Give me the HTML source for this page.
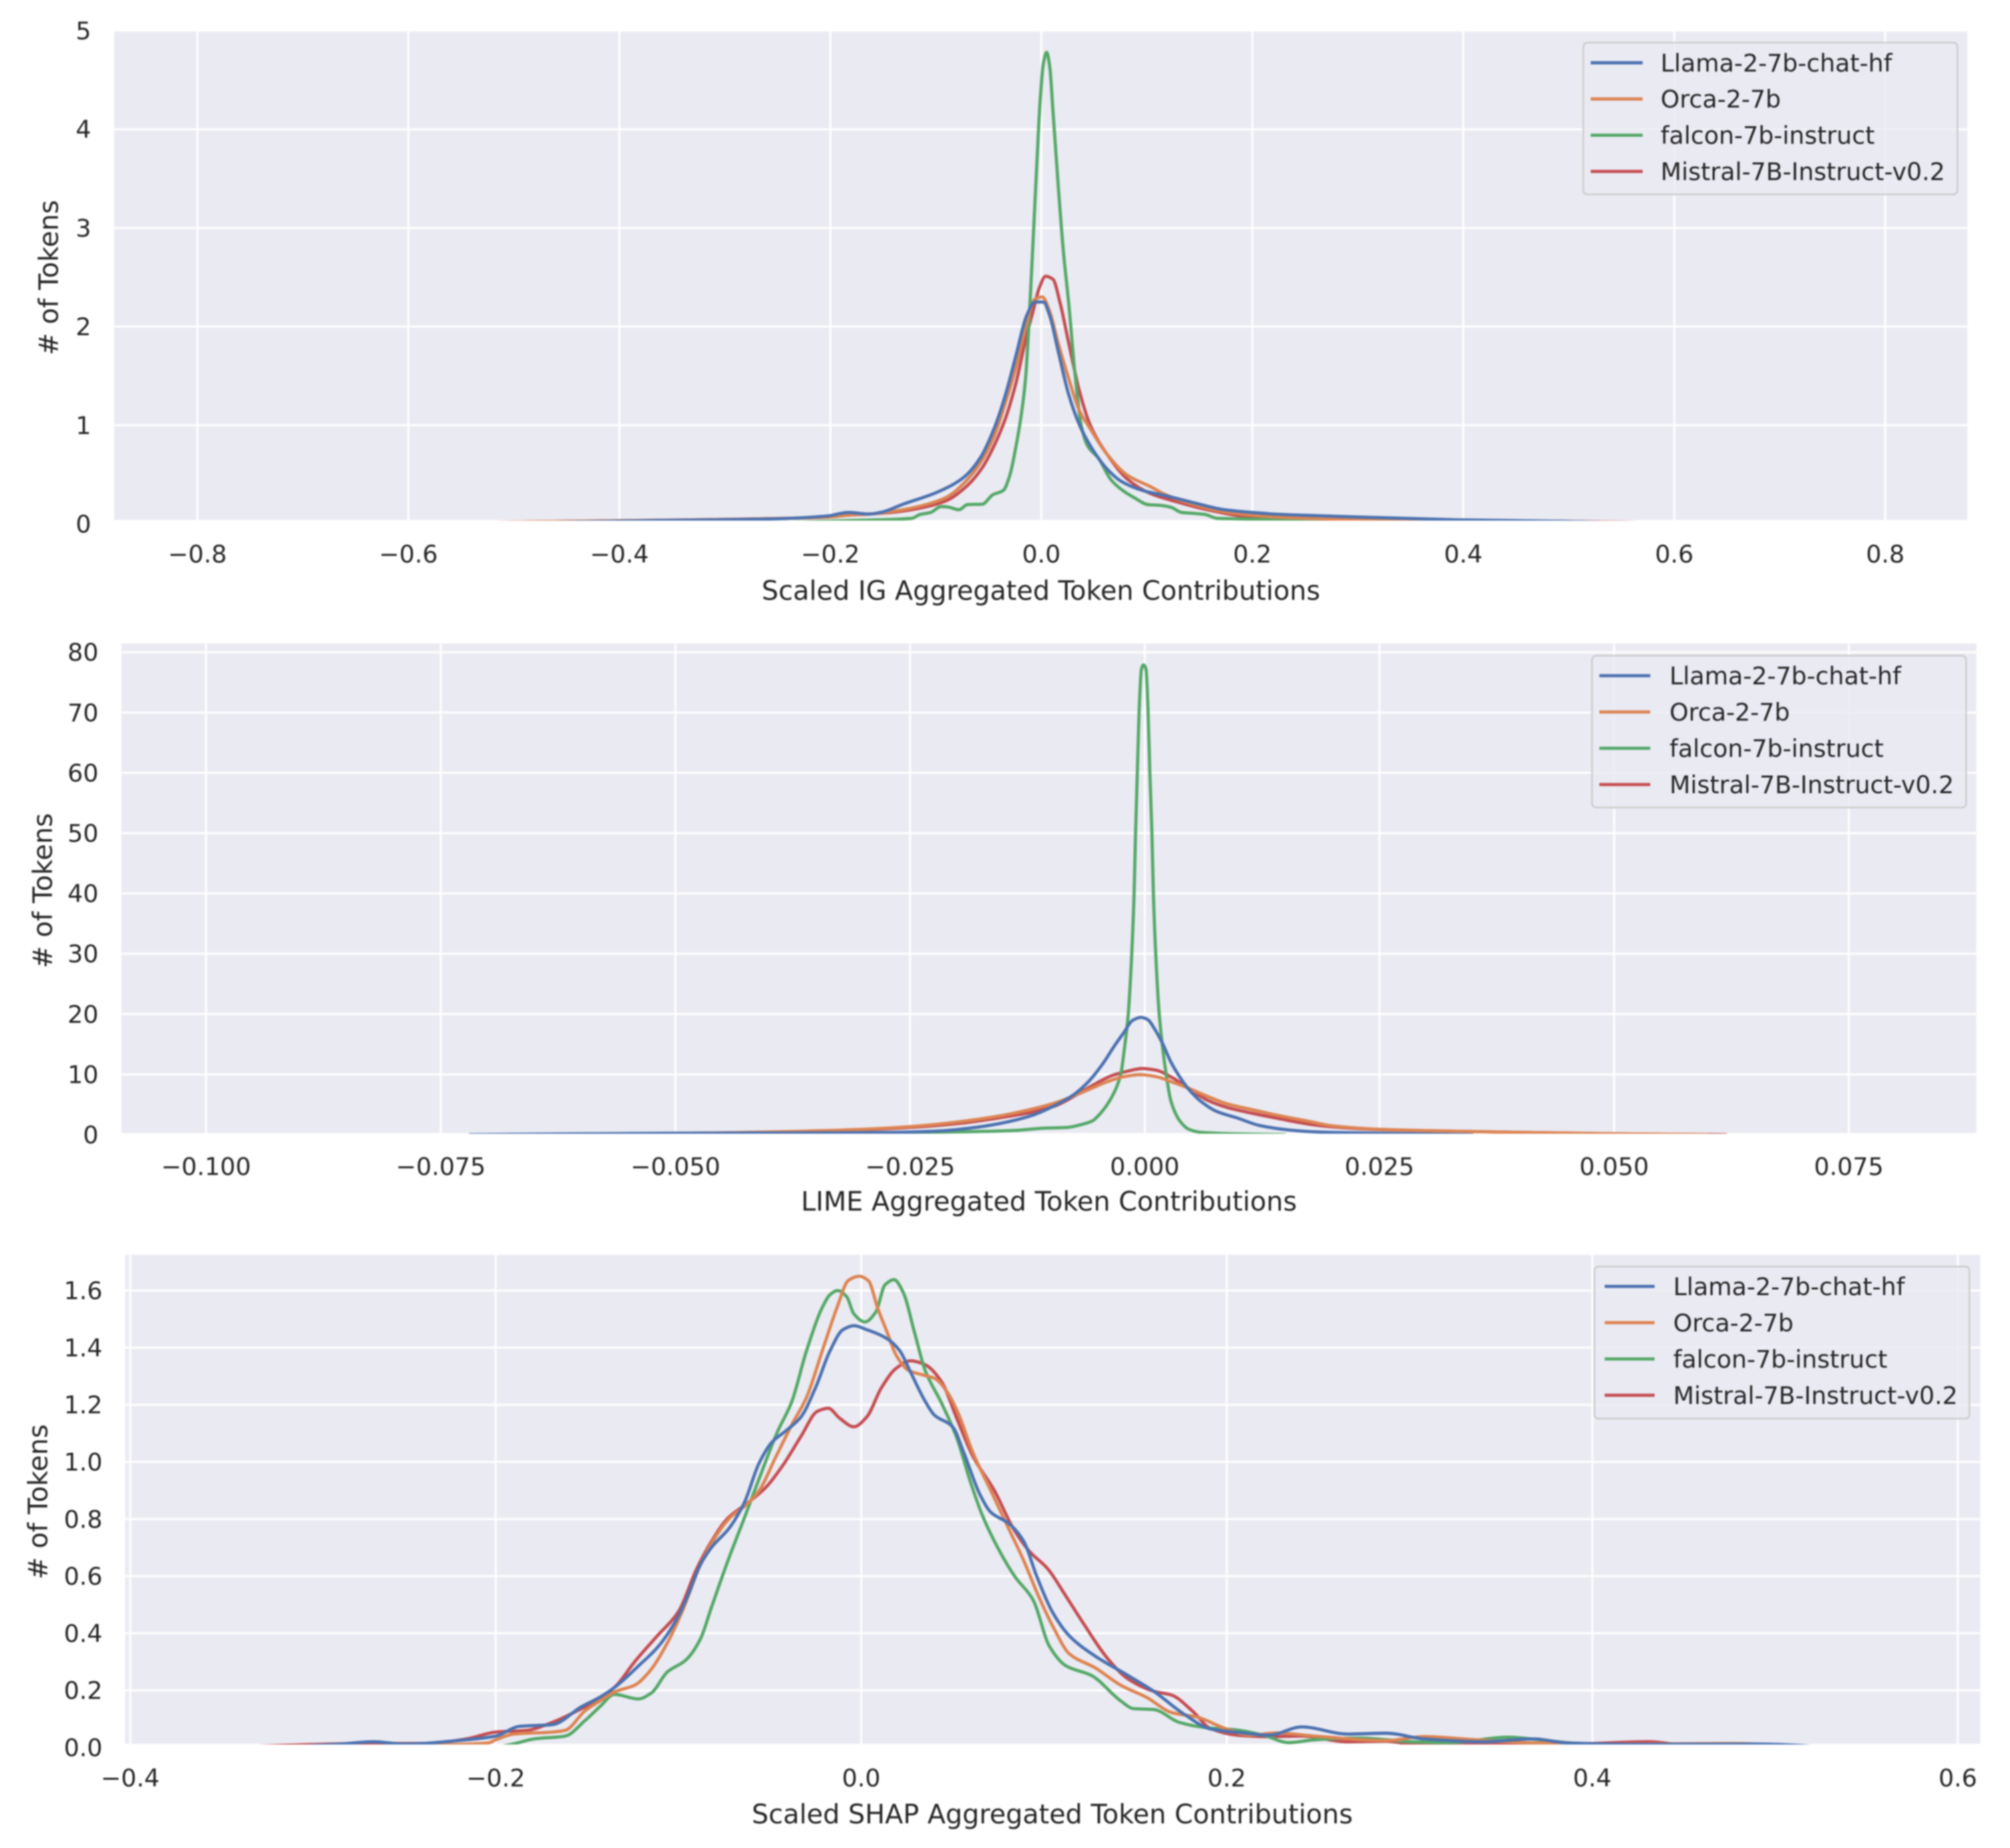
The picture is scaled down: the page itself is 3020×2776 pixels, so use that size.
<!DOCTYPE html>
<html lang="en">
<head>
<meta charset="utf-8">
<title>Aggregated Token Contributions</title>
<style>
html,body{margin:0;padding:0;background:#fff;width:3020px;height:2776px;overflow:hidden}
svg{display:block;filter:blur(1.1px)}
text{font-family:"DejaVu Sans","Liberation Sans",sans-serif;fill:#262626}
</style>
</head>
<body>
<svg id="chart" xmlns="http://www.w3.org/2000/svg" width="3020" height="2776" viewBox="0 0 3020 2776">
<rect width="3020" height="2776" fill="#ffffff"/>
<defs id="defs"></defs>
</svg>
<script>
// ---------- shared labels ----------
const seriesNames = ["Llama-2-7b-chat-hf","Orca-2-7b","falcon-7b-instruct","Mistral-7B-Instruct-v0.2"];
const seriesColors = ["#4c72b0","#dd8452","#55a868","#c44e52"];

// ---------- IG panel ----------
const igXTicks = [-0.8,-0.6,-0.4,-0.2,0,0.2,0.4,0.6,0.8];
const igXLabels = ["−0.8","−0.6","−0.4","−0.2","0.0","0.2","0.4","0.6","0.8"];
const igYTicks = [0,1,2,3,4,5];
const igYLabels = ["0","1","2","3","4","5"];
const igLlamaX = [-.53,-.45,-.36,-.256,-.203,-.183,-.163,-.151,-.131,-.099,-.074,-.058,-.044,-.034,-.024,-.014,-.006,.002,.008,.016,.026,.036,.046,.062,.076,.097,.117,.147,.171,.2,.227,.26,.3,.35,.4,.5,.6];
const igLlamaY = [0,.02,.035,.05,.08,.116,.1,.12,.2,.32,.468,.668,.988,1.309,1.709,2.109,2.249,2.249,2.109,1.749,1.309,1.008,.8,.56,.43,.336,.288,.208,.148,.116,.096,.084,.07,.055,.04,.025,0];
const igOrcaX = [-.62,-.5,-.336,-.276,-.203,-.183,-.163,-.139,-.115,-.09,-.07,-.056,-.044,-.034,-.024,-.014,-.006,.001,.008,.016,.026,.036,.046,.062,.082,.103,.117,.147,.171,.2,.227,.28,.35,.45,.6];
const igOrcaY = [0,.02,.04,.05,.068,.088,.1,.13,.18,.27,.45,.65,.91,1.23,1.59,2.03,2.28,2.3,2.15,1.83,1.47,1.15,.97,.71,.49,.38,.3,.188,.128,.088,.068,.05,.04,.025,0];
const igFalconX = [-.3,-.227,-.179,-.123,-.115,-.105,-.095,-.089,-.078,-.07,-.056,-.046,-.036,-.03,-.024,-.019,-.015,-.011,-.008,-.004,-.001,.002,.005,.008,.011,.016,.021,.026,.032,.038,.044,.054,.066,.076,.089,.101,.113,.123,.133,.143,.155,.167,.187,.227,.3];
const igFalconY = [0,.02,.035,.056,.096,.116,.176,.172,.144,.196,.2,.296,.34,.488,.788,1.108,1.469,2.189,2.829,3.709,4.31,4.67,4.78,4.63,4.19,3.43,2.75,2.23,1.51,.988,.788,.668,.448,.348,.26,.196,.188,.168,.116,.108,.096,.056,.052,.04,0];
const igMistralX = [-.66,-.5,-.336,-.276,-.203,-.183,-.163,-.139,-.115,-.09,-.07,-.056,-.044,-.034,-.024,-.014,-.008,-.002,.004,.011,.018,.026,.036,.046,.062,.082,.103,.127,.159,.2,.247,.3,.4,.55,.66];
const igMistralY = [0,.02,.04,.05,.068,.088,.1,.12,.16,.236,.39,.57,.81,1.07,1.43,1.91,2.15,2.39,2.51,2.48,2.23,1.83,1.35,1.01,.71,.45,.31,.228,.14,.068,.052,.045,.035,.02,0];

// ---------- LIME panel ----------
const limeXTicks = [-0.1,-0.075,-0.05,-0.025,0,0.025,0.05,0.075];
const limeXLabels = ["−0.100","−0.075","−0.050","−0.025","0.000","0.025","0.050","0.075"];
const limeYTicks = [0,10,20,30,40,50,60,70,80];
const limeYLabels = ["0","10","20","30","40","50","60","70","80"];
const limeLlamaX = [-.072,-.05,-.035,-.0266,-.0218,-.0187,-.0155,-.012,-.0095,-.0076,-.006,-.0045,-.0032,-.0022,-.0013,-.0004,.0003,.0011,.0019,.0028,.0038,.0047,.006,.0076,.0098,.0123,.0155,.0186,.025,.035];
const limeLlamaY = [0,.25,.3,.38,.63,1.08,1.84,3.2,4.9,6.6,8.8,11.7,14.8,17,18.95,19.45,19.1,17.4,15.1,12,9.4,7.5,5.5,3.9,2.8,1.5,.76,.44,.25,0];
const limeOrcaX = [-.06,-.05,-.04,-.03,-.025,-.02,-.0155,-.012,-.0095,-.0076,-.0057,-.0038,-.0022,-.0005,.0012,.0028,.0047,.0066,.0088,.0113,.0145,.0177,.0198,.025,.034,.041,.05,.06];
const limeOrcaY = [0,.2,.45,.89,1.33,2.1,3.1,4.25,5.3,6.4,7.67,8.9,9.63,9.95,9.63,8.8,7.67,6.4,5.1,4.2,3.1,2.15,1.5,.9,.55,.35,.15,0];
const limeFalconX = [-.035,-.0234,-.0187,-.0139,-.0108,-.0083,-.0067,-.00556,-.0048,-.004,-.0032,-.00256,-.00215,-.00177,-.00139,-.00114,-.00098,-.00079,-.0006,-.00035,-.00013,.00013,.00035,.00054,.00076,.00092,.00117,.00155,.00228,.0028,.0038,.0047,.006,.0076,.0098,.015];
const limeFalconY = [0,.4,.5,.7,1.08,1.2,1.7,2.3,3.4,5,7.2,10,14.5,19.8,29.9,39.9,50,60.1,70.3,77.2,77.9,77.2,70.3,60.1,50,39.9,29.9,19.8,10,5.5,2.15,.89,.38,.25,.13,0];
const limeMistralX = [-.06,-.05,-.04,-.03,-.025,-.02,-.0155,-.012,-.0095,-.0076,-.0057,-.0035,-.0019,-.0003,.0012,.0028,.0047,.0066,.0088,.0113,.0145,.0177,.0198,.025,.034,.041,.05,.062];
const limeMistralY = [0,.2,.4,.82,1.2,1.84,2.8,3.74,4.8,6.3,8.05,9.8,10.5,10.96,10.7,9.57,7.67,5.77,4.5,3.6,2.6,1.7,1.33,.85,.55,.35,.15,0];

// ---------- SHAP panel ----------
const shapXTicks = [-0.4,-0.2,0,0.2,0.4,0.6];
const shapXLabels = ["−0.4","−0.2","0.0","0.2","0.4","0.6"];
const shapYTicks = [0,0.2,0.4,0.6,0.8,1,1.2,1.4,1.6];
const shapYLabels = ["0.0","0.2","0.4","0.6","0.8","1.0","1.2","1.4","1.6"];
const shapLlamaX = [-.32,-.285,-.267,-.25,-.216,-.2,-.187,-.169,-.153,-.143,-.134,-.122,-.111,-.101,-.095,-.088,-.082,-.072,-.064,-.056,-.049,-.041,-.033,-.025,-.017,-.01,-.004,.003,.014,.021,.027,.035,.04,.05,.056,.065,.071,.081,.089,.096,.105,.114,.128,.146,.16,.177,.191,.209,.223,.241,.266,.287,.308,.34,.368,.386,.428,.491,.534];
const shapLlamaY = [0,.012,.02,.012,.027,.04,.074,.08,.143,.176,.215,.285,.354,.449,.53,.64,.7,.77,.857,.994,1.068,1.11,1.157,1.26,1.39,1.463,1.477,1.463,1.432,1.39,1.314,1.212,1.164,1.123,1.034,.885,.823,.783,.721,.6,.47,.39,.32,.252,.197,.115,.065,.051,.043,.072,.047,.05,.03,.02,.03,.016,.011,.012,0];
const shapOrcaX = [-.3,-.216,-.204,-.2,-.19,-.169,-.162,-.151,-.143,-.134,-.124,-.116,-.106,-.098,-.088,-.08,-.072,-.064,-.056,-.047,-.038,-.03,-.021,-.013,-.007,-.001,.004,.009,.014,.019,.026,.034,.04,.047,.053,.061,.071,.081,.089,.097,.105,.114,.128,.142,.156,.17,.184,.199,.213,.227,.248,.287,.308,.336,.368,.428,.474,.534];
const shapOrcaY = [0,.012,.016,.027,.047,.054,.06,.129,.163,.197,.218,.265,.367,.476,.64,.735,.803,.844,.898,1.014,1.13,1.225,1.395,1.545,1.636,1.65,1.634,1.538,1.457,1.375,1.32,1.304,1.293,1.245,1.171,1.034,.898,.762,.653,.53,.422,.327,.279,.218,.176,.122,.106,.067,.043,.051,.04,.024,.038,.027,.016,.012,.014,0];
const shapFalconX = [-.2,-.19,-.179,-.162,-.151,-.143,-.135,-.122,-.115,-.106,-.096,-.088,-.082,-.073,-.064,-.056,-.046,-.038,-.03,-.021,-.017,-.013,-.008,-.004,.002,.008,.013,.018,.023,.029,.035,.044,.052,.06,.066,.074,.084,.094,.103,.112,.126,.142,.149,.16,.174,.188,.206,.22,.234,.248,.273,.301,.322,.354,.375,.393,.428];
const shapFalconY = [0,.013,.03,.04,.095,.143,.186,.17,.19,.265,.306,.38,.49,.653,.803,.939,1.103,1.211,1.388,1.545,1.586,1.6,1.579,1.518,1.49,1.525,1.62,1.638,1.593,1.457,1.32,1.205,1.089,.925,.817,.708,.599,.517,.354,.286,.252,.163,.136,.133,.088,.07,.061,.043,.017,.027,.033,.02,.017,.036,.024,.013,0];
const shapMistralX = [-.355,-.267,-.239,-.216,-.2,-.183,-.169,-.153,-.143,-.134,-.124,-.112,-.1,-.09,-.082,-.073,-.062,-.052,-.043,-.033,-.024,-.018,-.012,-.004,.003,.011,.019,.027,.035,.044,.052,.061,.073,.083,.092,.102,.112,.121,.135,.146,.16,.17,.181,.191,.206,.223,.241,.266,.287,.301,.343,.379,.431,.449,.566];
const shapMistralY = [0,.014,.014,.03,.054,.06,.088,.136,.17,.217,.3,.388,.476,.626,.721,.803,.857,.912,.987,1.089,1.177,1.188,1.154,1.123,1.157,1.259,1.327,1.354,1.34,1.28,1.157,1.021,.898,.769,.687,.626,.53,.44,.31,.24,.197,.183,.129,.067,.043,.038,.04,.02,.022,.013,.013,.01,.02,.01,0];

// ---------- layout (not data) ----------
const svg = document.getElementById('chart');
const defs = document.getElementById('defs');
const NS = 'http://www.w3.org/2000/svg';

function node(tag, attrs, parent) {
  const el = document.createElementNS(NS, tag);
  for (const k in attrs) el.setAttribute(k, attrs[k]);
  parent.appendChild(el);
  return el;
}

function monotonePath(px, py) {
  const n = px.length;
  const d = [], m = new Array(n);
  for (let i = 0; i < n - 1; i++) d.push((py[i + 1] - py[i]) / (px[i + 1] - px[i]));
  m[0] = d[0];
  m[n - 1] = d[n - 2];
  for (let i = 1; i < n - 1; i++) {
    if (d[i - 1] * d[i] <= 0) { m[i] = 0; continue; }
    const h0 = px[i] - px[i - 1], h1 = px[i + 1] - px[i];
    const w1 = 2 * h1 + h0, w2 = h1 + 2 * h0;
    m[i] = (w1 + w2) / (w1 / d[i - 1] + w2 / d[i]);
  }
  let s = 'M' + px[0].toFixed(2) + ' ' + py[0].toFixed(2);
  for (let i = 0; i < n - 1; i++) {
    const h = (px[i + 1] - px[i]) / 3;
    s += 'C' + (px[i] + h).toFixed(2) + ' ' + (py[i] + m[i] * h).toFixed(2) + ' ' +
         (px[i + 1] - h).toFixed(2) + ' ' + (py[i + 1] - m[i + 1] * h).toFixed(2) + ' ' +
         px[i + 1].toFixed(2) + ' ' + py[i + 1].toFixed(2);
  }
  return s;
}

function drawPanel(p) {
  const xScale = v => p.x0 + p.kx * v;
  const yScale = v => p.y0 - p.ky * v;

  const group = node('g', {}, svg);
  
  

  const clip = node('clipPath', { id: p.id + '-clip' }, defs);
  node('rect', { x: p.left, y: p.top, width: p.right - p.left, height: p.bottom - p.top + 1 }, clip);

  const bg = node('rect', { x: p.left, y: p.top, width: p.right - p.left, height: p.bottom - p.top, fill: '#eaeaf2' }, group);
  
  

  const grid = node('g', { 'clip-path': 'url(#' + p.id + '-clip)', stroke: '#ffffff', 'stroke-width': 3 }, group);
  
  

  p.xTicks.forEach((v, i) => {
    const gl = node('line', { x1: xScale(v), x2: xScale(v), y1: p.top, y2: p.bottom + 2 }, grid);
    
    
    const t = node('text', { x: xScale(v), y: p.xTickBase, 'font-size': 36.5, 'text-anchor': 'middle' }, group);
    t.textContent = p.xLabels[i];
    
    
  });

  p.yTicks.forEach((v, i) => {
    const gl = node('line', { x1: p.left, x2: p.right, y1: yScale(v), y2: yScale(v) }, grid);
    
    
    const t = node('text', { x: p.yTickRight, y: yScale(v) + 13, 'font-size': 36.5, 'text-anchor': 'end' }, group);
    t.textContent = p.yLabels[i];
    
    
  });

  const curves = node('g', { 'clip-path': 'url(#' + p.id + '-clip)', fill: 'none', 'stroke-width': 4.8, 'stroke-linejoin': 'round' }, group);
  
  

  // Drawn last-to-first, so the first series sits on top.
  for (let s = p.series.length - 1; s >= 0; s--) {
    const xs = p.series[s][0].map(xScale);
    const ys = p.series[s][1].map(yScale);
    const line = node('path', { d: monotonePath(xs, ys), stroke: seriesColors[s] }, curves);
    
    
  }

  const xt = node('text', { x: p.xTitleX, y: p.xTitleBase, 'font-size': 39.8, 'text-anchor': 'middle' }, group);
  xt.textContent = p.xTitle;
  
  

  const yt = node('text', { x: 0, y: 0, 'font-size': 40.2, 'text-anchor': 'middle', transform: 'translate(' + p.yTitleX + ' ' + p.yTitleY + ') rotate(-90)' }, group);
  yt.textContent = '# of Tokens';
  
  

  const lg = node('g', {}, group);
  
  
  const frame = node('rect', { x: p.lgLeft, y: p.lgTop, width: p.lgRight - p.lgLeft, height: p.lgBottom - p.lgTop, rx: 6, ry: 6, fill: '#eaeaf2', 'fill-opacity': 0.8, stroke: '#cccccc', 'stroke-width': 2.5 }, lg);
  
  
  seriesNames.forEach((name, i) => {
    const ry = p.lgRow0 + p.lgRowH * i;
    const swatch = node('line', { x1: p.lgLine0, x2: p.lgLine1, y1: ry, y2: ry, stroke: seriesColors[i], 'stroke-width': 4.8 }, lg);
    
    
    const label = node('text', { x: p.lgText - 1, y: ry + 13, 'font-size': 36.4 }, lg);
    label.textContent = name;
    
    
  });
}

drawPanel({
  id: 'ig', left: 171.5, right: 2956, top: 46, bottom: 781,
  x0: 1564.6, kx: 1585, y0: 787, ky: 148.2,
  xTicks: igXTicks, xLabels: igXLabels, yTicks: igYTicks, yLabels: igYLabels,
  series: [[igLlamaX, igLlamaY], [igOrcaX, igOrcaY], [igFalconX, igFalconY], [igMistralX, igMistralY]],
  xTickBase: 845, yTickRight: 137,
  xTitle: 'Scaled IG Aggregated Token Contributions', xTitleX: 1564, xTitleBase: 901,
  yTitleX: 87, yTitleY: 417,
  lgLeft: 2379, lgRight: 2941, lgTop: 64, lgBottom: 292,
  lgRow0: 94.3, lgRowH: 54.4, lgLine0: 2390, lgLine1: 2468, lgText: 2496
});

drawPanel({
  id: 'lime', left: 182.4, right: 2969.4, top: 966.7, bottom: 1702,
  x0: 1720, kx: 14104, y0: 1704.5, ky: 9.06,
  xTicks: limeXTicks, xLabels: limeXLabels, yTicks: limeYTicks, yLabels: limeYLabels,
  series: [[limeLlamaX, limeLlamaY], [limeOrcaX, limeOrcaY], [limeFalconX, limeFalconY], [limeMistralX, limeMistralY]],
  xTickBase: 1765, yTickRight: 148,
  xTitle: 'LIME Aggregated Token Contributions', xTitleX: 1576, xTitleBase: 1818.6,
  yTitleX: 78, yTitleY: 1338,
  lgLeft: 2392, lgRight: 2954, lgTop: 985, lgBottom: 1213,
  lgRow0: 1015, lgRowH: 54.5, lgLine0: 2403, lgLine1: 2479.5, lgText: 2509.4
});

drawPanel({
  id: 'shap', left: 188, right: 2975.4, top: 1885, bottom: 2619.5,
  x0: 1294, kx: 2746, y0: 2625, ky: 429,
  xTicks: shapXTicks, xLabels: shapXLabels, yTicks: shapYTicks, yLabels: shapYLabels,
  series: [[shapLlamaX, shapLlamaY], [shapOrcaX, shapOrcaY], [shapFalconX, shapFalconY], [shapMistralX, shapMistralY]],
  xTickBase: 2683.6, yTickRight: 154,
  xTitle: 'Scaled SHAP Aggregated Token Contributions', xTitleX: 1581, xTitleBase: 2739,
  yTitleX: 71, yTitleY: 2256,
  lgLeft: 2395.7, lgRight: 2959, lgTop: 1902.6, lgBottom: 2131,
  lgRow0: 1932.4, lgRowH: 54.5, lgLine0: 2411, lgLine1: 2486, lgText: 2515
});
</script>
</body>
</html>
